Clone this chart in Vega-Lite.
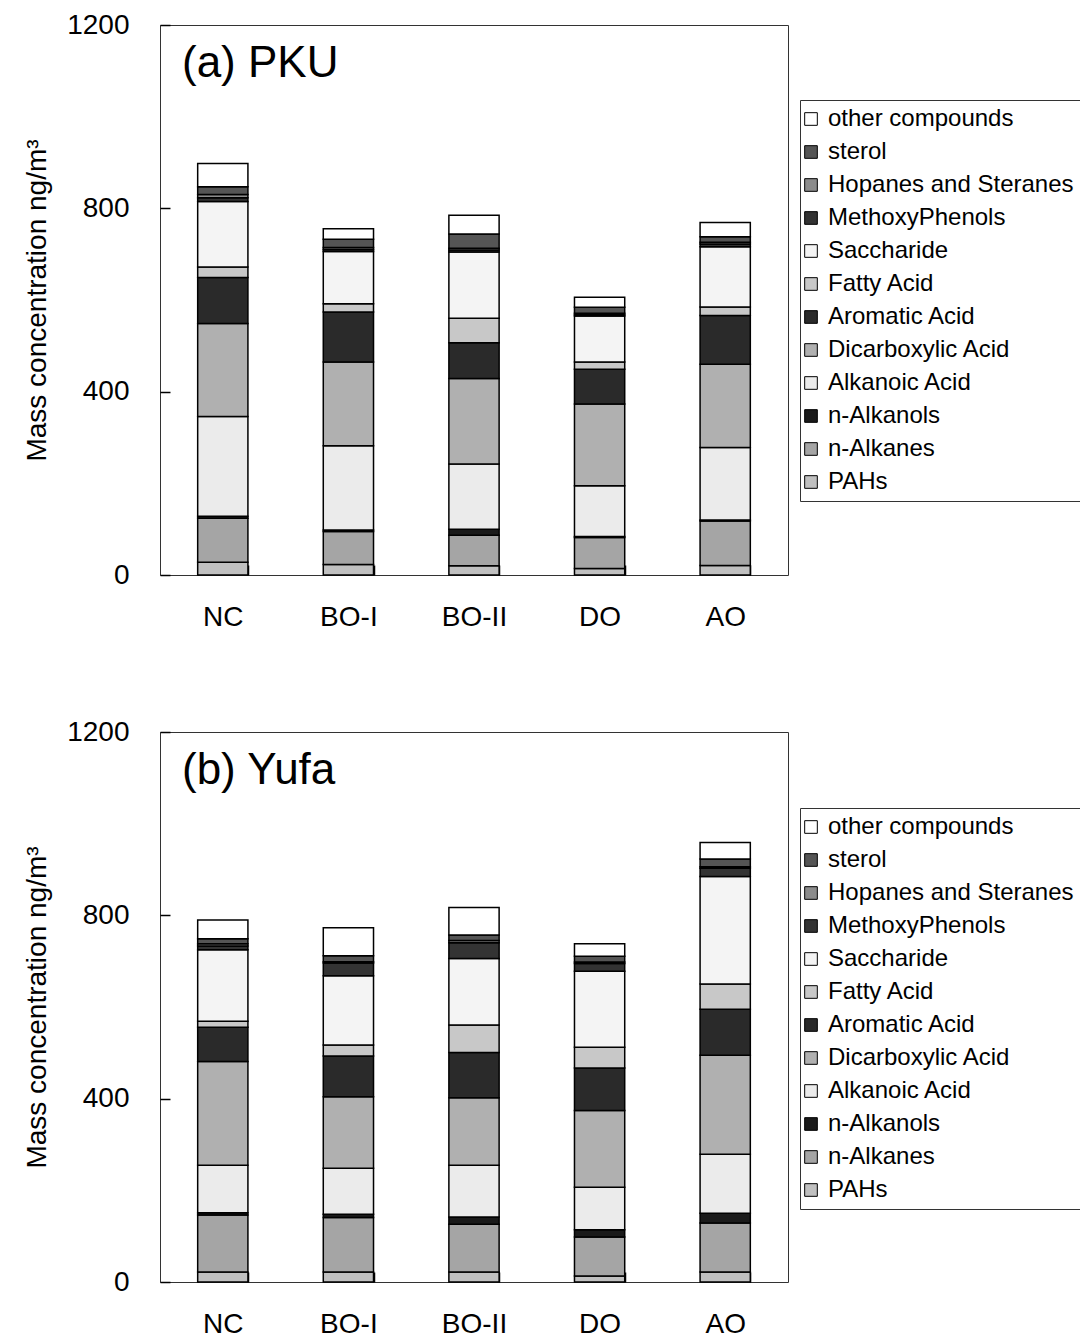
{
  "$schema": "https://vega.github.io/schema/vega-lite/v6.json",
  "background": "white",
  "padding": {"left": 23, "top": 10, "right": 0, "bottom": 0},
  "bounds": "flush",
  "spacing": 157,
  "datasets": {
    "comps": [
      {"comp": "PAHs", "rank": 1},
      {"comp": "n-Alkanes", "rank": 2},
      {"comp": "n-Alkanols", "rank": 3},
      {"comp": "Alkanoic Acid", "rank": 4},
      {"comp": "Dicarboxylic Acid", "rank": 5},
      {"comp": "Aromatic Acid", "rank": 6},
      {"comp": "Fatty Acid", "rank": 7},
      {"comp": "Saccharide", "rank": 8},
      {"comp": "MethoxyPhenols", "rank": 9},
      {"comp": "Hopanes and Steranes", "rank": 10},
      {"comp": "sterol", "rank": 11},
      {"comp": "other compounds", "rank": 12}
    ],
    "rows": [
      {"site": "PKU", "sample": "NC", "comp": "PAHs", "v": 28},
      {"site": "PKU", "sample": "NC", "comp": "n-Alkanes", "v": 96},
      {"site": "PKU", "sample": "NC", "comp": "n-Alkanols", "v": 4},
      {"site": "PKU", "sample": "NC", "comp": "Alkanoic Acid", "v": 218},
      {"site": "PKU", "sample": "NC", "comp": "Dicarboxylic Acid", "v": 203},
      {"site": "PKU", "sample": "NC", "comp": "Aromatic Acid", "v": 100},
      {"site": "PKU", "sample": "NC", "comp": "Fatty Acid", "v": 23},
      {"site": "PKU", "sample": "NC", "comp": "Saccharide", "v": 143},
      {"site": "PKU", "sample": "NC", "comp": "MethoxyPhenols", "v": 8},
      {"site": "PKU", "sample": "NC", "comp": "Hopanes and Steranes", "v": 7},
      {"site": "PKU", "sample": "NC", "comp": "sterol", "v": 17},
      {"site": "PKU", "sample": "NC", "comp": "other compounds", "v": 51},

      {"site": "PKU", "sample": "BO-I", "comp": "PAHs", "v": 23},
      {"site": "PKU", "sample": "BO-I", "comp": "n-Alkanes", "v": 72},
      {"site": "PKU", "sample": "BO-I", "comp": "n-Alkanols", "v": 3},
      {"site": "PKU", "sample": "BO-I", "comp": "Alkanoic Acid", "v": 184},
      {"site": "PKU", "sample": "BO-I", "comp": "Dicarboxylic Acid", "v": 183},
      {"site": "PKU", "sample": "BO-I", "comp": "Aromatic Acid", "v": 109},
      {"site": "PKU", "sample": "BO-I", "comp": "Fatty Acid", "v": 18},
      {"site": "PKU", "sample": "BO-I", "comp": "Saccharide", "v": 114},
      {"site": "PKU", "sample": "BO-I", "comp": "MethoxyPhenols", "v": 4},
      {"site": "PKU", "sample": "BO-I", "comp": "Hopanes and Steranes", "v": 4.5},
      {"site": "PKU", "sample": "BO-I", "comp": "sterol", "v": 18},
      {"site": "PKU", "sample": "BO-I", "comp": "other compounds", "v": 23},

      {"site": "PKU", "sample": "BO-II", "comp": "PAHs", "v": 20},
      {"site": "PKU", "sample": "BO-II", "comp": "n-Alkanes", "v": 67},
      {"site": "PKU", "sample": "BO-II", "comp": "n-Alkanols", "v": 13},
      {"site": "PKU", "sample": "BO-II", "comp": "Alkanoic Acid", "v": 142},
      {"site": "PKU", "sample": "BO-II", "comp": "Dicarboxylic Acid", "v": 187},
      {"site": "PKU", "sample": "BO-II", "comp": "Aromatic Acid", "v": 78},
      {"site": "PKU", "sample": "BO-II", "comp": "Fatty Acid", "v": 53},
      {"site": "PKU", "sample": "BO-II", "comp": "Saccharide", "v": 145},
      {"site": "PKU", "sample": "BO-II", "comp": "MethoxyPhenols", "v": 4},
      {"site": "PKU", "sample": "BO-II", "comp": "Hopanes and Steranes", "v": 4},
      {"site": "PKU", "sample": "BO-II", "comp": "sterol", "v": 31},
      {"site": "PKU", "sample": "BO-II", "comp": "other compounds", "v": 41},

      {"site": "PKU", "sample": "DO", "comp": "PAHs", "v": 14},
      {"site": "PKU", "sample": "DO", "comp": "n-Alkanes", "v": 68},
      {"site": "PKU", "sample": "DO", "comp": "n-Alkanols", "v": 2},
      {"site": "PKU", "sample": "DO", "comp": "Alkanoic Acid", "v": 111},
      {"site": "PKU", "sample": "DO", "comp": "Dicarboxylic Acid", "v": 178},
      {"site": "PKU", "sample": "DO", "comp": "Aromatic Acid", "v": 76},
      {"site": "PKU", "sample": "DO", "comp": "Fatty Acid", "v": 16},
      {"site": "PKU", "sample": "DO", "comp": "Saccharide", "v": 100},
      {"site": "PKU", "sample": "DO", "comp": "MethoxyPhenols", "v": 3},
      {"site": "PKU", "sample": "DO", "comp": "Hopanes and Steranes", "v": 3},
      {"site": "PKU", "sample": "DO", "comp": "sterol", "v": 13},
      {"site": "PKU", "sample": "DO", "comp": "other compounds", "v": 22},

      {"site": "PKU", "sample": "AO", "comp": "PAHs", "v": 21},
      {"site": "PKU", "sample": "AO", "comp": "n-Alkanes", "v": 97},
      {"site": "PKU", "sample": "AO", "comp": "n-Alkanols", "v": 2},
      {"site": "PKU", "sample": "AO", "comp": "Alkanoic Acid", "v": 158},
      {"site": "PKU", "sample": "AO", "comp": "Dicarboxylic Acid", "v": 182},
      {"site": "PKU", "sample": "AO", "comp": "Aromatic Acid", "v": 106},
      {"site": "PKU", "sample": "AO", "comp": "Fatty Acid", "v": 19},
      {"site": "PKU", "sample": "AO", "comp": "Saccharide", "v": 131},
      {"site": "PKU", "sample": "AO", "comp": "MethoxyPhenols", "v": 6},
      {"site": "PKU", "sample": "AO", "comp": "Hopanes and Steranes", "v": 4},
      {"site": "PKU", "sample": "AO", "comp": "sterol", "v": 12},
      {"site": "PKU", "sample": "AO", "comp": "other compounds", "v": 31},

      {"site": "Yufa", "sample": "NC", "comp": "PAHs", "v": 22},
      {"site": "Yufa", "sample": "NC", "comp": "n-Alkanes", "v": 124},
      {"site": "Yufa", "sample": "NC", "comp": "n-Alkanols", "v": 5},
      {"site": "Yufa", "sample": "NC", "comp": "Alkanoic Acid", "v": 104},
      {"site": "Yufa", "sample": "NC", "comp": "Dicarboxylic Acid", "v": 226},
      {"site": "Yufa", "sample": "NC", "comp": "Aromatic Acid", "v": 75},
      {"site": "Yufa", "sample": "NC", "comp": "Fatty Acid", "v": 13},
      {"site": "Yufa", "sample": "NC", "comp": "Saccharide", "v": 156},
      {"site": "Yufa", "sample": "NC", "comp": "MethoxyPhenols", "v": 8},
      {"site": "Yufa", "sample": "NC", "comp": "Hopanes and Steranes", "v": 5},
      {"site": "Yufa", "sample": "NC", "comp": "sterol", "v": 11},
      {"site": "Yufa", "sample": "NC", "comp": "other compounds", "v": 41},

      {"site": "Yufa", "sample": "BO-I", "comp": "PAHs", "v": 22},
      {"site": "Yufa", "sample": "BO-I", "comp": "n-Alkanes", "v": 119},
      {"site": "Yufa", "sample": "BO-I", "comp": "n-Alkanols", "v": 7},
      {"site": "Yufa", "sample": "BO-I", "comp": "Alkanoic Acid", "v": 100},
      {"site": "Yufa", "sample": "BO-I", "comp": "Dicarboxylic Acid", "v": 156},
      {"site": "Yufa", "sample": "BO-I", "comp": "Aromatic Acid", "v": 89},
      {"site": "Yufa", "sample": "BO-I", "comp": "Fatty Acid", "v": 24},
      {"site": "Yufa", "sample": "BO-I", "comp": "Saccharide", "v": 151},
      {"site": "Yufa", "sample": "BO-I", "comp": "MethoxyPhenols", "v": 28},
      {"site": "Yufa", "sample": "BO-I", "comp": "Hopanes and Steranes", "v": 3},
      {"site": "Yufa", "sample": "BO-I", "comp": "sterol", "v": 13},
      {"site": "Yufa", "sample": "BO-I", "comp": "other compounds", "v": 61},

      {"site": "Yufa", "sample": "BO-II", "comp": "PAHs", "v": 22},
      {"site": "Yufa", "sample": "BO-II", "comp": "n-Alkanes", "v": 104},
      {"site": "Yufa", "sample": "BO-II", "comp": "n-Alkanols", "v": 16},
      {"site": "Yufa", "sample": "BO-II", "comp": "Alkanoic Acid", "v": 113},
      {"site": "Yufa", "sample": "BO-II", "comp": "Dicarboxylic Acid", "v": 147},
      {"site": "Yufa", "sample": "BO-II", "comp": "Aromatic Acid", "v": 99},
      {"site": "Yufa", "sample": "BO-II", "comp": "Fatty Acid", "v": 60},
      {"site": "Yufa", "sample": "BO-II", "comp": "Saccharide", "v": 145},
      {"site": "Yufa", "sample": "BO-II", "comp": "MethoxyPhenols", "v": 34},
      {"site": "Yufa", "sample": "BO-II", "comp": "Hopanes and Steranes", "v": 5},
      {"site": "Yufa", "sample": "BO-II", "comp": "sterol", "v": 12},
      {"site": "Yufa", "sample": "BO-II", "comp": "other compounds", "v": 60},

      {"site": "Yufa", "sample": "DO", "comp": "PAHs", "v": 13},
      {"site": "Yufa", "sample": "DO", "comp": "n-Alkanes", "v": 85},
      {"site": "Yufa", "sample": "DO", "comp": "n-Alkanols", "v": 16},
      {"site": "Yufa", "sample": "DO", "comp": "Alkanoic Acid", "v": 93},
      {"site": "Yufa", "sample": "DO", "comp": "Dicarboxylic Acid", "v": 167},
      {"site": "Yufa", "sample": "DO", "comp": "Aromatic Acid", "v": 93},
      {"site": "Yufa", "sample": "DO", "comp": "Fatty Acid", "v": 45},
      {"site": "Yufa", "sample": "DO", "comp": "Saccharide", "v": 166},
      {"site": "Yufa", "sample": "DO", "comp": "MethoxyPhenols", "v": 17},
      {"site": "Yufa", "sample": "DO", "comp": "Hopanes and Steranes", "v": 3},
      {"site": "Yufa", "sample": "DO", "comp": "sterol", "v": 13},
      {"site": "Yufa", "sample": "DO", "comp": "other compounds", "v": 27},

      {"site": "Yufa", "sample": "AO", "comp": "PAHs", "v": 22},
      {"site": "Yufa", "sample": "AO", "comp": "n-Alkanes", "v": 107},
      {"site": "Yufa", "sample": "AO", "comp": "n-Alkanols", "v": 21},
      {"site": "Yufa", "sample": "AO", "comp": "Alkanoic Acid", "v": 129},
      {"site": "Yufa", "sample": "AO", "comp": "Dicarboxylic Acid", "v": 216},
      {"site": "Yufa", "sample": "AO", "comp": "Aromatic Acid", "v": 100},
      {"site": "Yufa", "sample": "AO", "comp": "Fatty Acid", "v": 55},
      {"site": "Yufa", "sample": "AO", "comp": "Saccharide", "v": 235},
      {"site": "Yufa", "sample": "AO", "comp": "MethoxyPhenols", "v": 18},
      {"site": "Yufa", "sample": "AO", "comp": "Hopanes and Steranes", "v": 3},
      {"site": "Yufa", "sample": "AO", "comp": "sterol", "v": 17},
      {"site": "Yufa", "sample": "AO", "comp": "other compounds", "v": 36}
    ]
  },
  "config": {
    "font": "Liberation Sans",
    "view": {"stroke": "#333", "strokeWidth": 1},
    "axis": {
      "labelFont": "Liberation Sans",
      "labelFontSize": 28,
      "labelColor": "black",
      "titleFont": "Liberation Sans",
      "titleFontSize": 28,
      "titleFontWeight": "normal",
      "titleColor": "black",
      "domain": false,
      "tickColor": "black",
      "tickWidth": 1.5,
      "tickSize": 10,
      "offset": -10,
      "grid": false
    },
    "legend": {
      "orient": "none",
      "legendX": 640,
      "title": null,
      "padding": 7,
      "strokeColor": "#333",
      "fillColor": "white",
      "symbolType": "square",
      "symbolSize": 160,
      "symbolStrokeColor": "black",
      "symbolStrokeWidth": 1,
      "symbolOffset": -8,
      "labelFont": "Liberation Sans",
      "labelFontSize": 24,
      "labelColor": "black",
      "labelLimit": 400,
      "labelOffset": 5,
      "rowPadding": 9
    },
    "title": {
      "font": "Liberation Sans",
      "fontSize": 44,
      "fontWeight": "normal",
      "color": "black",
      "anchor": "start",
      "frame": "group",
      "dx": 22,
      "offset": -75
    }
  },
  "vconcat": [
    {
      "width": 628,
      "height": 550,
      "title": "(a) PKU",
      "data": {"name": "rows"},
      "transform": [
        {"filter": "datum.site === 'PKU'"},
        {"lookup": "comp", "from": {"data": {"name": "comps"}, "key": "comp", "fields": ["rank"]}}
      ],
      "mark": {"type": "bar", "stroke": "black", "strokeWidth": 1.5},
      "encoding": {
        "x": {
          "field": "sample", "type": "nominal",
          "sort": ["NC", "BO-I", "BO-II", "DO", "AO"],
          "scale": {"paddingInner": 0.6, "paddingOuter": 0.3},
          "axis": {"title": null, "labelAngle": 0, "tickBand": "extent", "labelPadding": 28}
        },
        "y": {
          "field": "v", "type": "quantitative", "stack": "zero",
          "scale": {"domain": [0, 1200], "nice": false},
          "axis": {"title": "Mass concentration ng/m³", "format": "d", "values": [0, 400, 800, 1200], "labelPadding": 31, "titlePadding": 15}
        },
        "color": {
          "field": "comp", "type": "nominal",
          "scale": {
            "domain": ["other compounds", "sterol", "Hopanes and Steranes", "MethoxyPhenols", "Saccharide", "Fatty Acid", "Aromatic Acid", "Dicarboxylic Acid", "Alkanoic Acid", "n-Alkanols", "n-Alkanes", "PAHs"],
            "range": ["#ffffff", "#555555", "#8c8c8c", "#333333", "#f4f4f4", "#c8c8c8", "#2a2a2a", "#b0b0b0", "#ebebeb", "#1a1a1a", "#a5a5a5", "#c0c0c0"]
          },
          "legend": {"legendY": 75}
        },
        "order": {"field": "rank", "type": "quantitative", "sort": "ascending"}
      }
    },
    {
      "width": 628,
      "height": 550,
      "title": "(b) Yufa",
      "data": {"name": "rows"},
      "transform": [
        {"filter": "datum.site === 'Yufa'"},
        {"lookup": "comp", "from": {"data": {"name": "comps"}, "key": "comp", "fields": ["rank"]}}
      ],
      "mark": {"type": "bar", "stroke": "black", "strokeWidth": 1.5},
      "encoding": {
        "x": {
          "field": "sample", "type": "nominal",
          "sort": ["NC", "BO-I", "BO-II", "DO", "AO"],
          "scale": {"paddingInner": 0.6, "paddingOuter": 0.3},
          "axis": {"title": null, "labelAngle": 0, "tickBand": "extent", "labelPadding": 28}
        },
        "y": {
          "field": "v", "type": "quantitative", "stack": "zero",
          "scale": {"domain": [0, 1200], "nice": false},
          "axis": {"title": "Mass concentration ng/m³", "format": "d", "values": [0, 400, 800, 1200], "labelPadding": 31, "titlePadding": 15}
        },
        "color": {
          "field": "comp", "type": "nominal",
          "scale": {
            "domain": ["other compounds", "sterol", "Hopanes and Steranes", "MethoxyPhenols", "Saccharide", "Fatty Acid", "Aromatic Acid", "Dicarboxylic Acid", "Alkanoic Acid", "n-Alkanols", "n-Alkanes", "PAHs"],
            "range": ["#ffffff", "#555555", "#8c8c8c", "#333333", "#f4f4f4", "#c8c8c8", "#2a2a2a", "#b0b0b0", "#ebebeb", "#1a1a1a", "#a5a5a5", "#c0c0c0"]
          },
          "legend": {"legendY": 76}
        },
        "order": {"field": "rank", "type": "quantitative", "sort": "ascending"}
      }
    }
  ],
  "resolve": {"scale": {"color": "independent"}, "legend": {"color": "independent"}}
}
